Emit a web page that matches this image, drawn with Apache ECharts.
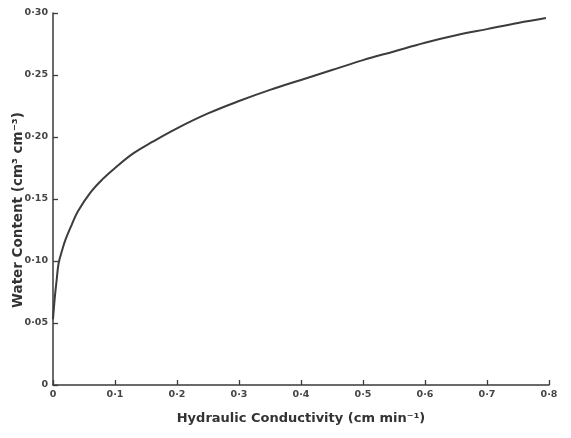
<!DOCTYPE html>
<html>
<head>
<meta charset="utf-8">
<script src="https://cdn.jsdelivr.net/npm/echarts@6/dist/echarts.min.js"></script>
<style>
html,body{margin:0;padding:0;background:#fff;}
#main{width:571px;height:438px;}
</style>
</head>
<body>
<div id="main"></div>
<script>
// Hydraulic conductivity (cm min^-1)
const conductivity = [0, 0.003, 0.006, 0.009, 0.015, 0.02, 0.03, 0.04, 0.06, 0.08, 0.1, 0.13, 0.16, 0.2, 0.25, 0.3, 0.35, 0.4, 0.45, 0.5, 0.55, 0.6, 0.65, 0.7, 0.75, 0.795];
// Water content (cm3 cm-3)
const waterContent = [0.053, 0.071, 0.085, 0.098, 0.109, 0.117, 0.129, 0.140, 0.155, 0.166, 0.175, 0.187, 0.196, 0.207, 0.219, 0.229, 0.238, 0.246, 0.254, 0.262, 0.269, 0.276, 0.282, 0.287, 0.292, 0.296];
const xTickLabels = ['0', '0·1', '0·2', '0·3', '0·4', '0·5', '0·6', '0·7', '0·8'];
const yTickLabels = ['0', '0·05', '0·10', '0·15', '0·20', '0·25', '0·30'];
const xTitle = 'Hydraulic Conductivity (cm min⁻¹)';
const yTitle = 'Water Content (cm³ cm⁻³)';

const chart = echarts.init(document.getElementById('main'), null, {renderer: 'canvas'});
const axisColor = '#3a3a3a';
const labelStyle = {color: '#444', fontFamily: 'DejaVu Sans', fontSize: 9.5, fontWeight: 'bold'};
chart.setOption({
  backgroundColor: '#fff',
  animation: false,
  grid: {left: 53, right: 22, top: 13, bottom: 53, containLabel: false, outerBoundsMode: 'none'},
  xAxis: {
    type: 'value', min: 0, max: 0.8, interval: 0.1,
    name: xTitle, nameLocation: 'middle', nameGap: 27, nameMoveOverlap: false,
    nameTextStyle: {color: '#333', fontFamily: 'DejaVu Sans', fontSize: 13, fontWeight: 'bold'},
    axisLine: {show: true, lineStyle: {color: axisColor, width: 1.5}},
    axisTick: {show: true, inside: true, length: 5, lineStyle: {color: axisColor, width: 1.3}},
    axisLabel: Object.assign({margin: 5, formatter: (v) => xTickLabels[Math.round(v / 0.1)]}, labelStyle),
    splitLine: {show: false}
  },
  yAxis: {
    type: 'value', min: 0, max: 0.3, interval: 0.05,
    name: yTitle, nameLocation: 'middle', nameGap: 28, nameMoveOverlap: false,
    nameTextStyle: {color: '#333', fontFamily: 'DejaVu Sans', fontSize: 13.5, fontWeight: 'bold', padding: [0, 22, 0, 0]},
    axisLine: {show: true, lineStyle: {color: axisColor, width: 1.5}},
    axisTick: {show: true, inside: true, length: 5, lineStyle: {color: axisColor, width: 1.3}},
    axisLabel: Object.assign({margin: 5, formatter: (v) => yTickLabels[Math.round(v / 0.05)]}, labelStyle),
    splitLine: {show: false}
  },
  series: [{
    type: 'line',
    data: conductivity.map((x, i) => [x, waterContent[i]]),
    smooth: 0.4,
    showSymbol: false,
    lineStyle: {color: '#3c3c3c', width: 2}
  }]
});
</script>
</body>
</html>
